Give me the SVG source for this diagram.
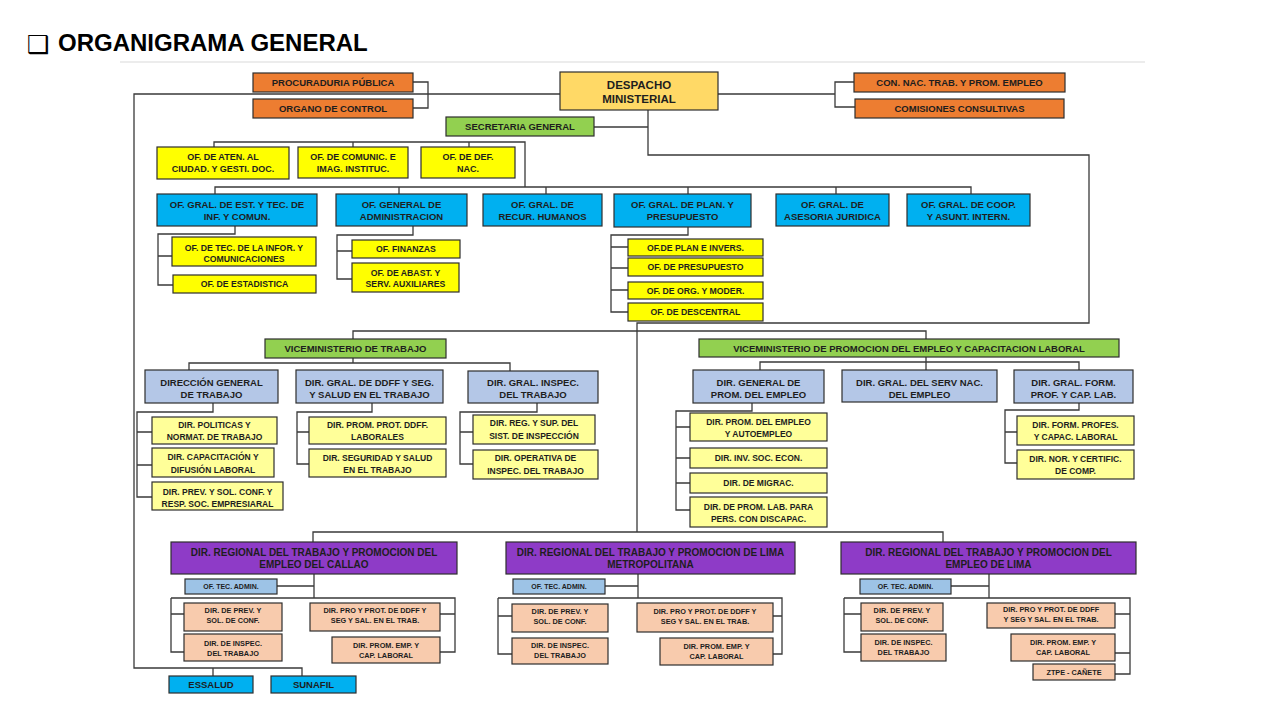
<svg xmlns="http://www.w3.org/2000/svg" width="1280" height="720" viewBox="0 0 1280 720">
<style>
text{font-family:"Liberation Sans",Arial,sans-serif;font-weight:bold;fill:#1e1e1e;text-anchor:middle}
rect{stroke:#2e2e2e;stroke-width:1.2}
.or{fill:#ED7D31}.dm{fill:#FFD966}.gr{fill:#92D050}.ye{fill:#FFFF00}.bl{fill:#00B0F0}
.lb{fill:#B4C7E7}.ly{fill:#FFFF99}.pu{fill:#8E3BC7}.tb{fill:#9DC3E6}.pe{fill:#F8CBAD}
.f10{font-size:10px}.f115{font-size:11.5px}.f95{font-size:9.5px}.f9{font-size:9px}.f87{font-size:8.7px}.f85{font-size:8.5px}.f73{font-size:7.3px}.f7{font-size:7px}
#connectors path{fill:none;stroke:#3a3a3a;stroke-width:1.3}
</style>
<rect x="0" y="0" width="1280" height="720" style="fill:#ffffff;stroke:none"/>
<g id="title">
<text x="27" y="53" style="font-family:'DejaVu Sans',sans-serif;font-size:25px;text-anchor:start;font-weight:normal;fill:#000">❑</text>
<text x="58" y="51" style="font-size:24px;text-anchor:start;fill:#000">ORGANIGRAMA GENERAL</text>
<line x1="120" y1="62" x2="1145" y2="62" style="stroke:#d9d9d9;stroke-width:1"/>
</g>
<g id="connectors">
<path d="M560 94H134V668H302V676M213 668V676"/>
<path d="M413 82H428V108H413"/>
<path d="M718 94H835M854 82H835V107H855"/>
<path d="M648 110V155H1089V323H637V532"/>
<path d="M594 127H648"/>
<path d="M353 339V331H926V339"/>
<path d="M313 542V532H943V542"/>
<path d="M214 147V142H525V187M353 142V147M469 142V147"/>
<path d="M215 194V187H971V194M399 187V194M546 187V194M688 187V194M836 187V194"/>
<path d="M235 226V234H158V285H173M158 256H172"/>
<path d="M413 226V235H337V279H352M337 251H352"/>
<path d="M688 227V235H611V312H628M611 247H628M611 268H628M611 290H628"/>
<path d="M189 370V363H510V371M353 358V363"/>
<path d="M213 403V412H137V497H152M137 432H152M137 465H152"/>
<path d="M372 403V412H297V464H309M297 432H309"/>
<path d="M537 403V412H460V464H473M460 432H473"/>
<path d="M760 370V362H1079V370M926 357V370"/>
<path d="M752 403V411H676V510H690M676 427H690M676 458H690M676 483H690"/>
<path d="M1079 403V410H1005V463H1017M1005 432H1017"/>
<path d="M314 574V598M277 586H314M171 598H455V652H440M171 598V652H184M171 614H184M455 614H440"/>
<path d="M638 574V598M605 586H638M498 598H782V654H773M498 598V654H512M498 616H512M782 616H773"/>
<path d="M989 574V598M951 586H989M844 598H1130V674H1115M844 598V652H861M844 614H861M1130 614H1115M1130 653H1115"/>
</g>
<g id="procuraduria"><rect class="or" x="253" y="73" width="160" height="19"/><text class="f95" x="333" y="86">PROCURADURIA PÚBLICA</text></g>
<g id="organo-control"><rect class="or" x="253" y="99" width="160" height="19"/><text class="f95" x="333" y="112">ORGANO DE CONTROL</text></g>
<g id="despacho"><rect class="dm" x="560" y="72" width="158" height="38"/><text class="f115" x="639" y="89">DESPACHO</text><text class="f115" x="639" y="103">MINISTERIAL</text></g>
<g id="con-nac"><rect class="or" x="854" y="73" width="211" height="19"/><text class="f95" x="959.5" y="86">CON. NAC. TRAB. Y PROM. EMPLEO</text></g>
<g id="comisiones"><rect class="or" x="855" y="99" width="209" height="19"/><text class="f95" x="959.5" y="112">COMISIONES CONSULTIVAS</text></g>
<g id="secretaria"><rect class="gr" x="446" y="117" width="148" height="19"/><text class="f95" x="520" y="130">SECRETARIA GENERAL</text></g>
<g id="of-aten"><rect class="ye" x="157" y="147" width="132" height="32"/><text class="f9" x="223" y="160">OF. DE ATEN. AL</text><text class="f9" x="223" y="172">CIUDAD. Y GESTI. DOC.</text></g>
<g id="of-comunic"><rect class="ye" x="298" y="147" width="110" height="31"/><text class="f9" x="353" y="160">OF. DE COMUNIC. E</text><text class="f9" x="353" y="172">IMAG. INSTITUC.</text></g>
<g id="of-def"><rect class="ye" x="421" y="147" width="94" height="31"/><text class="f9" x="468" y="160">OF. DE DEF.</text><text class="f9" x="468" y="172">NAC.</text></g>
<g id="of-est"><rect class="bl" x="157" y="194" width="160" height="32"/><text class="f95" x="237" y="207.5">OF. GRAL. DE EST. Y TEC. DE</text><text class="f95" x="237" y="219.5">INF. Y COMUN.</text></g>
<g id="of-admin"><rect class="bl" x="336" y="194" width="131" height="32"/><text class="f95" x="401.5" y="207.5">OF. GENERAL DE</text><text class="f95" x="401.5" y="219.5">ADMINISTRACION</text></g>
<g id="of-rrhh"><rect class="bl" x="483" y="194" width="119" height="32"/><text class="f95" x="542.5" y="207.5">OF. GRAL. DE</text><text class="f95" x="542.5" y="219.5">RECUR. HUMANOS</text></g>
<g id="of-plan"><rect class="bl" x="614" y="194" width="137" height="33"/><text class="f95" x="682.5" y="207.5">OF. GRAL. DE PLAN. Y</text><text class="f95" x="682.5" y="219.5">PRESUPUESTO</text></g>
<g id="of-asesoria"><rect class="bl" x="776" y="194" width="113" height="32"/><text class="f95" x="832.5" y="207.5">OF. GRAL. DE</text><text class="f95" x="832.5" y="219.5">ASESORIA JURIDICA</text></g>
<g id="of-coop"><rect class="bl" x="907" y="194" width="123" height="32"/><text class="f95" x="968.5" y="207.5">OF. GRAL. DE COOP.</text><text class="f95" x="968.5" y="219.5">Y ASUNT. INTERN.</text></g>
<g id="of-tec-info"><rect class="ye" x="172" y="237" width="144" height="29"/><text class="f87" x="244" y="251">OF. DE TEC. DE LA INFOR. Y</text><text class="f87" x="244" y="262">COMUNICACIONES</text></g>
<g id="of-estadistica"><rect class="ye" x="173" y="275" width="143" height="18"/><text class="f87" x="244.5" y="287">OF. DE ESTADISTICA</text></g>
<g id="of-finanzas"><rect class="ye" x="352" y="240" width="108" height="18"/><text class="f87" x="406" y="252">OF. FINANZAS</text></g>
<g id="of-abast"><rect class="ye" x="352" y="263" width="107" height="29"/><text class="f87" x="405.5" y="276">OF. DE ABAST. Y</text><text class="f87" x="405.5" y="287">SERV. AUXILIARES</text></g>
<g id="of-plan-invers"><rect class="ye" x="628" y="239" width="135" height="17"/><text class="f87" x="695.5" y="250.7">OF.DE PLAN E INVERS.</text></g>
<g id="of-presupuesto"><rect class="ye" x="628" y="258" width="135" height="18"/><text class="f87" x="695.5" y="270">OF. DE PRESUPUESTO</text></g>
<g id="of-org"><rect class="ye" x="628" y="282" width="135" height="17"/><text class="f87" x="695.5" y="293.7">OF. DE ORG. Y MODER.</text></g>
<g id="of-descentral"><rect class="ye" x="628" y="303" width="135" height="18"/><text class="f87" x="695.5" y="315">OF. DE DESCENTRAL</text></g>
<g id="vm-trabajo"><rect class="gr" x="265" y="339" width="181" height="19"/><text class="f95" x="355.5" y="352">VICEMINISTERIO DE TRABAJO</text></g>
<g id="dg-trabajo"><rect class="lb" x="145" y="370" width="133" height="33"/><text class="f95" x="211.5" y="385.5">DIRECCIÓN GENERAL</text><text class="f95" x="211.5" y="397.5">DE TRABAJO</text></g>
<g id="dg-ddff"><rect class="lb" x="296" y="370" width="147" height="33"/><text class="f95" x="369.5" y="385.5">DIR. GRAL. DE DDFF Y SEG.</text><text class="f95" x="369.5" y="397.5">Y SALUD EN EL TRABAJO</text></g>
<g id="dg-inspec"><rect class="lb" x="468" y="371" width="130" height="32"/><text class="f95" x="533" y="385.5">DIR. GRAL. INSPEC.</text><text class="f95" x="533" y="397.5">DEL TRABAJO</text></g>
<g id="dir-politicas"><rect class="ly" x="152" y="417" width="125" height="27"/><text class="f85" x="214.5" y="427.5">DIR. POLITICAS Y</text><text class="f85" x="214.5" y="439.5">NORMAT. DE TRABAJO</text></g>
<g id="dir-capacitacion"><rect class="ly" x="152" y="448" width="122" height="29"/><text class="f85" x="213" y="460">DIR. CAPACITACIÓN Y</text><text class="f85" x="213" y="472.5">DIFUSIÓN LABORAL</text></g>
<g id="dir-prev"><rect class="ly" x="152" y="482" width="131" height="28"/><text class="f85" x="217.5" y="495">DIR. PREV. Y SOL. CONF. Y</text><text class="f85" x="217.5" y="507">RESP. SOC. EMPRESIARAL</text></g>
<g id="dir-prom-prot"><rect class="ly" x="309" y="417" width="137" height="27"/><text class="f85" x="377.5" y="427.5">DIR. PROM. PROT. DDFF.</text><text class="f85" x="377.5" y="439.5">LABORALES</text></g>
<g id="dir-seguridad"><rect class="ly" x="309" y="449" width="137" height="28"/><text class="f85" x="377.5" y="461">DIR. SEGURIDAD Y SALUD</text><text class="f85" x="377.5" y="473">EN EL TRABAJO</text></g>
<g id="dir-reg-sup"><rect class="ly" x="473" y="415" width="122" height="29"/><text class="f85" x="534" y="426">DIR. REG. Y SUP. DEL</text><text class="f85" x="534" y="438.5">SIST. DE INSPECCIÓN</text></g>
<g id="dir-operativa"><rect class="ly" x="473" y="450" width="125" height="29"/><text class="f85" x="535.5" y="461">DIR. OPERATIVA DE</text><text class="f85" x="535.5" y="474">INSPEC. DEL TRABAJO</text></g>
<g id="vm-promocion"><rect class="gr" x="699" y="339" width="420" height="18"/><text class="f95" x="909" y="351.5">VICEMINISTERIO DE PROMOCION DEL EMPLEO Y CAPACITACION LABORAL</text></g>
<g id="dg-prom-empleo"><rect class="lb" x="693" y="370" width="131" height="33"/><text class="f95" x="758.5" y="385.5">DIR. GENERAL DE</text><text class="f95" x="758.5" y="397.5">PROM. DEL EMPLEO</text></g>
<g id="dg-serv-nac"><rect class="lb" x="842" y="370" width="155" height="32"/><text class="f95" x="919.5" y="385.5">DIR. GRAL. DEL SERV NAC.</text><text class="f95" x="919.5" y="397.5">DEL EMPLEO</text></g>
<g id="dg-form"><rect class="lb" x="1014" y="370" width="119" height="33"/><text class="f95" x="1073.5" y="385.5">DIR. GRAL. FORM.</text><text class="f95" x="1073.5" y="397.5">PROF. Y CAP. LAB.</text></g>
<g id="dir-autoempleo"><rect class="ly" x="690" y="413" width="137" height="28"/><text class="f85" x="758.5" y="425">DIR. PROM. DEL EMPLEO</text><text class="f85" x="758.5" y="437">Y AUTOEMPLEO</text></g>
<g id="dir-inv"><rect class="ly" x="690" y="448" width="137" height="20"/><text class="f85" x="758.5" y="461">DIR. INV. SOC. ECON.</text></g>
<g id="dir-migrac"><rect class="ly" x="690" y="473" width="137" height="20"/><text class="f85" x="758.5" y="486">DIR. DE MIGRAC.</text></g>
<g id="dir-discapac"><rect class="ly" x="690" y="497" width="137" height="30"/><text class="f85" x="758.5" y="510">DIR. DE PROM. LAB. PARA</text><text class="f85" x="758.5" y="522">PERS. CON DISCAPAC.</text></g>
<g id="dir-form-profes"><rect class="ly" x="1017" y="416" width="117" height="29"/><text class="f85" x="1075.5" y="428">DIR. FORM. PROFES.</text><text class="f85" x="1075.5" y="440">Y CAPAC. LABORAL</text></g>
<g id="dir-nor"><rect class="ly" x="1017" y="450" width="117" height="29"/><text class="f85" x="1075.5" y="462">DIR. NOR. Y CERTIFIC.</text><text class="f85" x="1075.5" y="474">DE COMP.</text></g>
<g id="dr-callao"><rect class="pu" x="171" y="542" width="286" height="32"/><text class="f10" x="314" y="555.5">DIR. REGIONAL DEL TRABAJO Y PROMOCION DEL</text><text class="f10" x="314" y="567.5">EMPLEO DEL CALLAO</text></g>
<g id="dr-lima-metro"><rect class="pu" x="506" y="542" width="289" height="32"/><text class="f10" x="650.5" y="555.5">DIR. REGIONAL DEL TRABAJO Y PROMOCION DE LIMA</text><text class="f10" x="650.5" y="567.5">METROPOLITANA</text></g>
<g id="dr-lima"><rect class="pu" x="841" y="542" width="295" height="32"/><text class="f10" x="988.5" y="555.5">DIR. REGIONAL DEL TRABAJO Y PROMOCION DEL</text><text class="f10" x="988.5" y="567.5">EMPLEO DE LIMA</text></g>
<g id="callao-tec-admin"><rect class="tb" x="185" y="579" width="92" height="15"/><text class="f7" x="231" y="589">OF. TEC. ADMIN.</text></g>
<g id="metro-tec-admin"><rect class="tb" x="513" y="579" width="92" height="15"/><text class="f7" x="559" y="589">OF. TEC. ADMIN.</text></g>
<g id="lima-tec-admin"><rect class="tb" x="860" y="579" width="91" height="15"/><text class="f7" x="905.5" y="589">OF. TEC. ADMIN.</text></g>
<g id="callao-prev"><rect class="pe" x="184" y="603" width="98" height="28"/><text class="f73" x="233" y="613">DIR. DE PREV. Y</text><text class="f73" x="233" y="623">SOL. DE CONF.</text></g>
<g id="callao-inspec"><rect class="pe" x="184" y="634" width="98" height="27"/><text class="f73" x="233" y="645.5">DIR. DE INSPEC.</text><text class="f73" x="233" y="655.5">DEL TRABAJO</text></g>
<g id="callao-pro"><rect class="pe" x="310" y="603" width="130" height="28"/><text class="f73" x="375" y="613">DIR. PRO Y PROT. DE DDFF Y</text><text class="f73" x="375" y="623">SEG Y SAL. EN EL TRAB.</text></g>
<g id="callao-prom"><rect class="pe" x="332" y="637" width="108" height="26"/><text class="f73" x="386" y="647.5">DIR. PROM. EMP. Y</text><text class="f73" x="386" y="657.5">CAP. LABORAL</text></g>
<g id="metro-prev"><rect class="pe" x="512" y="604" width="96" height="28"/><text class="f73" x="560" y="614">DIR. DE PREV. Y</text><text class="f73" x="560" y="624">SOL. DE CONF.</text></g>
<g id="metro-inspec"><rect class="pe" x="512" y="638" width="96" height="26"/><text class="f73" x="560" y="648">DIR. DE INSPEC.</text><text class="f73" x="560" y="658">DEL TRABAJO</text></g>
<g id="metro-pro"><rect class="pe" x="637" y="603" width="136" height="29"/><text class="f73" x="705" y="614">DIR. PRO Y PROT. DE DDFF Y</text><text class="f73" x="705" y="624">SEG Y SAL. EN EL TRAB.</text></g>
<g id="metro-prom"><rect class="pe" x="660" y="638" width="113" height="27"/><text class="f73" x="716.5" y="648.5">DIR. PROM. EMP. Y</text><text class="f73" x="716.5" y="658.5">CAP. LABORAL</text></g>
<g id="lima-prev"><rect class="pe" x="861" y="603" width="82" height="28"/><text class="f73" x="902" y="613">DIR. DE PREV. Y</text><text class="f73" x="902" y="623">SOL. DE CONF.</text></g>
<g id="lima-inspec"><rect class="pe" x="861" y="634" width="85" height="27"/><text class="f73" x="903.5" y="645">DIR. DE INSPEC.</text><text class="f73" x="903.5" y="655">DEL TRABAJO</text></g>
<g id="lima-pro"><rect class="pe" x="987" y="603" width="128" height="25"/><text class="f73" x="1051" y="612">DIR. PRO Y PROT. DE DDFF</text><text class="f73" x="1051" y="622">Y SEG Y SAL. EN EL TRAB.</text></g>
<g id="lima-prom"><rect class="pe" x="1011" y="634" width="104" height="27"/><text class="f73" x="1063" y="645">DIR. PROM. EMP. Y</text><text class="f73" x="1063" y="655">CAP. LABORAL</text></g>
<g id="ztpe-canete"><rect class="pe" x="1033" y="664" width="82" height="16"/><text class="f73" x="1074" y="674.5">ZTPE - CAÑETE</text></g>
<g id="essalud"><rect class="bl" x="169" y="676" width="84" height="17"/><text class="f95" x="211" y="688">ESSALUD</text></g>
<g id="sunafil"><rect class="bl" x="271" y="676" width="85" height="17"/><text class="f95" x="313.5" y="688">SUNAFIL</text></g>
</svg>
